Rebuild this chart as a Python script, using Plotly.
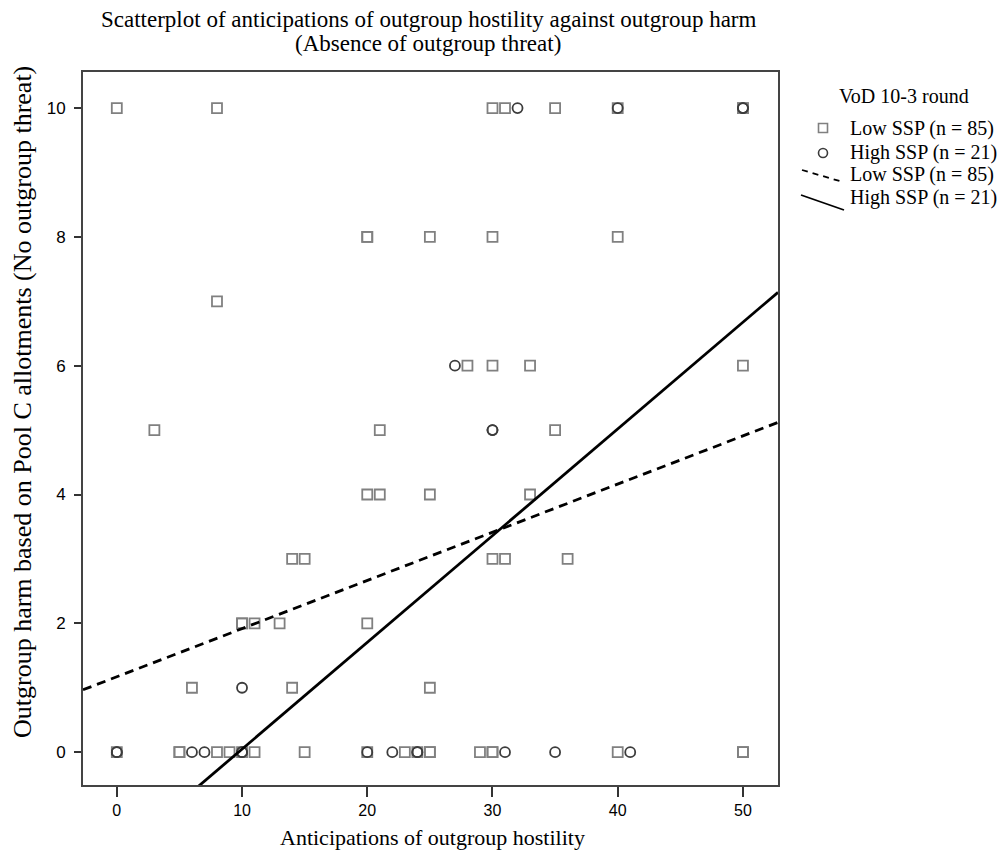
import plotly.graph_objects as go

# Low SSP (squares)
low_x = [0, 8, 30, 31, 35, 40, 50, 50,
         20, 20, 25, 30, 40,
         8,
         28, 30, 33, 50,
         3, 21, 35,
         20, 21, 25, 33,
         14, 15, 30, 31, 36,
         10, 10, 11, 13, 20,
         6, 14, 25,
         0, 5, 5, 8, 9, 10, 11, 15, 20, 23, 24, 25, 25, 29, 30, 30, 40, 50, 50]
low_y = [10, 10, 10, 10, 10, 10, 10, 10,
         8, 8, 8, 8, 8,
         7,
         6, 6, 6, 6,
         5, 5, 5,
         4, 4, 4, 4,
         3, 3, 3, 3, 3,
         2, 2, 2, 2, 2,
         1, 1, 1,
         0, 0, 0, 0, 0, 0, 0, 0, 0, 0, 0, 0, 0, 0, 0, 0, 0, 0, 0]

# High SSP (circles)
high_x = [32, 40, 50, 50, 27, 30, 30, 10,
          0, 0, 6, 7, 10, 10, 20, 22, 24, 24, 31, 35, 41]
high_y = [10, 10, 10, 10, 6, 5, 5, 1,
          0, 0, 0, 0, 0, 0, 0, 0, 0, 0, 0, 0, 0]

# Fit lines (intercept, slope)
low_fit = [1.17, 0.0748]
high_fit = [-1.61, 0.1657]

x_range = [-2.7, 52.8]
y_range = [-0.51, 10.56]
x_ticks = [0, 10, 20, 30, 40, 50]
y_ticks = [0, 2, 4, 6, 8, 10]

title_lines = ["Scatterplot of anticipations of outgroup hostility against outgroup harm",
               "(Absence of outgroup threat)"]
x_title = "Anticipations of outgroup hostility"
y_title = "Outgroup harm based on Pool C allotments (No outgroup threat)"
legend_title = "VoD 10-3 round"
legend_labels = ["Low SSP (n = 85)", "High SSP (n = 21)", "Low SSP (n = 85)", "High SSP (n = 21)"]

serif = "Liberation Serif, Times New Roman, serif"
narrow = "Liberation Sans Narrow, Arial Narrow, Liberation Sans, sans-serif"
SQ_COL = "#808080"
CI_COL = "#3c3c3c"

fig = go.Figure()
fig.add_trace(go.Scatter(
    x=low_x, y=low_y, mode="markers", name=legend_labels[0], showlegend=False,
    marker=dict(symbol="square-open", size=10, color=SQ_COL, line=dict(width=1.8, color=SQ_COL))))
fig.add_trace(go.Scatter(
    x=high_x, y=high_y, mode="markers", name=legend_labels[1], showlegend=False,
    marker=dict(symbol="circle-open", size=10, color=CI_COL, line=dict(width=1.8, color=CI_COL))))

lx = x_range
fig.add_trace(go.Scatter(
    x=lx, y=[low_fit[0] + low_fit[1] * v for v in lx], mode="lines", showlegend=False,
    name=legend_labels[2], line=dict(color="black", width=2.8, dash="9px,6px")))
fig.add_trace(go.Scatter(
    x=lx, y=[high_fit[0] + high_fit[1] * v for v in lx], mode="lines", showlegend=False,
    name=legend_labels[3], line=dict(color="black", width=2.8)))

W, H = 992, 847
L, T = 75, 64
PW, PH = 695, 713
R, B = W - L - PW, H - T - PH
OFF = 8  # page offset of the figure


def px(xp):
    return (xp - OFF - L) / PW


def py(yp):
    return (H - B - (yp - OFF)) / PH


ann = [
    dict(text=title_lines[0], x=px(428), y=py(19), font=dict(family=serif, size=23, color="black")),
    dict(text=title_lines[1], x=px(428), y=py(44), font=dict(family=serif, size=23, color="black")),
    dict(text=x_title, x=px(432), y=py(838), font=dict(family=serif, size=22, color="black")),
    dict(text=y_title, x=px(22), y=py(402), textangle=-90, font=dict(family=serif, size=26, color="black")),
    dict(text=legend_title, x=px(904), y=py(96), font=dict(family=serif, size=20, color="black")),
]
row_y = [128, 152, 174, 197]
for lab, yy in zip(legend_labels, row_y):
    ann.append(dict(text=lab, x=px(848), y=py(yy), xanchor="left", font=dict(family=serif, size=20, color="black")))
for a in ann:
    a.setdefault("xanchor", "center")
    a.update(xref="paper", yref="paper", showarrow=False, yanchor="middle")

shapes = [
    dict(type="rect", x0=px(818.5), x1=px(827.5), y0=py(123.5), y1=py(132.5),
         line=dict(color=SQ_COL, width=1.6)),
    dict(type="circle", x0=px(818.5), x1=px(827.5), y0=py(148.5), y1=py(157.5),
         line=dict(color=CI_COL, width=1.6)),
    dict(type="line", x0=px(802), x1=px(843), y0=py(170), y1=py(182),
         line=dict(color="black", width=1.8, dash="6px,5px")),
    dict(type="line", x0=px(801), x1=px(844), y0=py(195), y1=py(210),
         line=dict(color="black", width=1.8)),
]
for s in shapes:
    s.update(xref="paper", yref="paper")

fig.update_layout(
    width=W, height=H,
    margin=dict(l=L, r=R, t=T, b=B),
    paper_bgcolor="white", plot_bgcolor="white",
    annotations=ann, shapes=shapes,
    showlegend=False,
)
fig.update_xaxes(range=x_range, tickvals=x_ticks, ticks="outside", ticklen=10, tickwidth=2, tickcolor="#333",
                 showline=True, linecolor="#444", linewidth=2, mirror=True, showgrid=False, zeroline=False,
                 tickfont=dict(family=narrow, size=16, color="black"))
fig.update_yaxes(range=y_range, tickvals=y_ticks, ticks="outside", ticklen=7, tickwidth=2, tickcolor="#333",
                 showline=True, linecolor="#444", linewidth=2, mirror=True, showgrid=False, zeroline=False,
                 ticklabelstandoff=5,
                 tickfont=dict(family=narrow, size=17, color="black"))
fig.write_html("out.html")
